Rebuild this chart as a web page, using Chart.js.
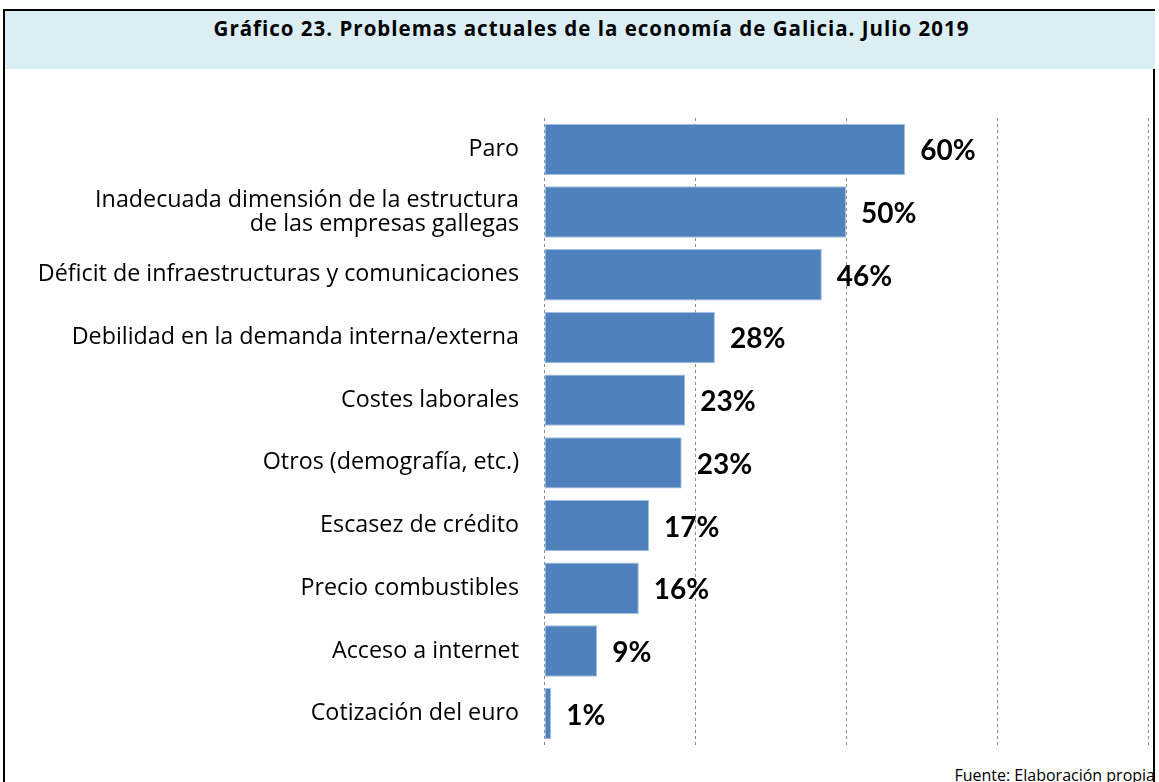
<!DOCTYPE html>
<html>
<head>
<meta charset="utf-8">
<script src="https://cdn.jsdelivr.net/npm/chart.js@4.4.1/dist/chart.umd.min.js"></script>
<style>
  html, body { margin: 0; padding: 0; background: #fff; }
  body { width: 1159px; height: 782px; position: relative; overflow: hidden; }
  #frame { position: absolute; left: 3px; top: 9px; width: 1152px; height: 790px; border: 2px solid #000; box-sizing: border-box; }
  #band { position: absolute; left: 5px; top: 11px; width: 1150px; height: 58px; background: #DAEEF3; }
  #title { position: absolute; left: 0; top: 14px; width: 1183px; text-align: center; font-family: "Open Sans", sans-serif; font-weight: bold; font-size: 20.5px; letter-spacing: 1px; color: #000; }
  #source { position: absolute; right: 4px; top: 764px; font-family: "Open Sans", sans-serif; font-size: 16px; color: #000; }
  #wrap { position: absolute; left: 0; top: 0; width: 1159px; height: 782px; }
</style>
</head>
<body>
<div id="frame"></div>
<div id="band"></div>
<div id="title">Gráfico 23. Problemas actuales de la economía de Galicia. Julio 2019</div>
<div id="source">Fuente: Elaboración propia</div>
<div id="wrap"><canvas id="chart" width="1159" height="782"></canvas></div>
<script>
const categories = [
    'Paro',
    ['Inadecuada dimensión de la estructura', 'de las empresas gallegas'],
    'Déficit de infraestructuras y comunicaciones',
    'Debilidad en la demanda interna/externa',
    'Costes laborales',
    'Otros (demografía, etc.)',
    'Escasez de crédito',
    'Precio combustibles',
    'Acceso a internet',
    'Cotización del euro'
];
const values = [59.8, 50, 46, 28.3, 23.4, 22.8, 17.4, 15.7, 8.8, 1.2];
const xTicks = [0, 25, 50, 75, 100];

const valueLabels = {
    id: 'valueLabels',
    afterDatasetsDraw(chart) {
        const ctx = chart.ctx;
        const meta = chart.getDatasetMeta(0);
        ctx.save();
        ctx.font = 'bold 28px Lato, sans-serif';
        ctx.fillStyle = '#000';
        ctx.textBaseline = 'middle';
        ctx.textAlign = 'left';
        meta.data.forEach((bar, i) => {
            ctx.fillText(Math.round(values[i]) + '%', bar.x + 15, bar.y + 2);
        });
        ctx.restore();
    }
};

new Chart(document.getElementById('chart'), {
    type: 'bar',
    data: {
        labels: categories,
        datasets: [{
            data: values,
            backgroundColor: '#4F81BD',
            borderColor: '#A7C0E2',
            borderWidth: 1,
            borderSkipped: false,
            barPercentage: 0.82,
            categoryPercentage: 1
        }]
    },
    options: {
        indexAxis: 'y',
        responsive: false,
        animation: false,
        layout: { padding: { top: 118, bottom: 27, right: 11, left: 0 } },
        plugins: { legend: { display: false }, tooltip: { enabled: false } },
        scales: {
            x: {
                min: 0,
                max: 100,
                afterBuildTicks: axis => { axis.ticks = xTicks.map(v => ({ value: v })); },
                ticks: { display: false },
                grid: { color: '#8a8a8a', lineWidth: 1, drawTicks: false },
                border: { display: false, dash: [3, 3] }
            },
            y: {
                afterFit: axis => { axis.width = 544; },
                ticks: {
                    color: '#000',
                    padding: 25,
                    font: { family: 'Open Sans', size: 23.3, lineHeight: 1.03 }
                },
                grid: { display: false, drawTicks: false },
                border: { display: false }
            }
        }
    },
    plugins: [valueLabels]
});
</script>
</body>
</html>
